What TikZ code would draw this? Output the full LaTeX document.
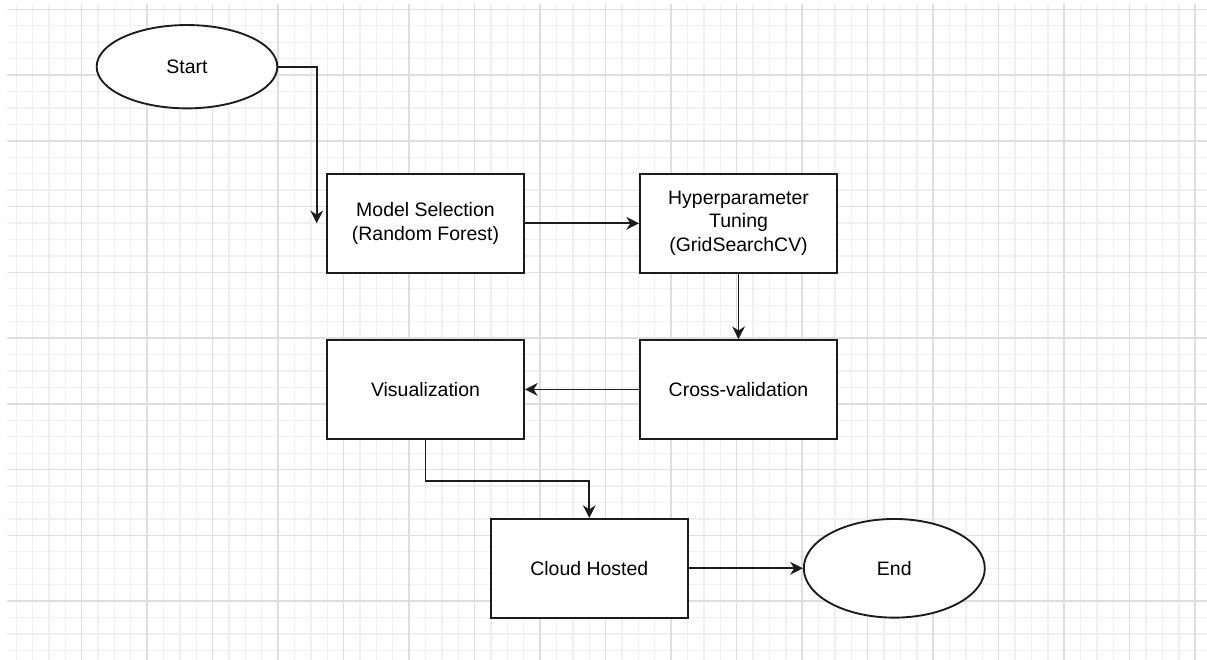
\documentclass[tikz,border=0pt]{standalone}
\usepackage{fontspec}
\setmainfont{Liberation Sans}
\usetikzlibrary{positioning,shapes.geometric,arrows.meta}
\definecolor{gridminor}{RGB}{240,240,240}
\definecolor{gridmajor}{RGB}{222,222,222}
\definecolor{inkline}{RGB}{28,28,28}

\begin{document}
\begin{tikzpicture}[x=0.75pt, y=-0.75pt, ->, >={Stealth[length=9.5pt,width=9.5pt,inset=3pt]},
	line width=1.4pt, draw=inkline, node distance=49.2pt and 85.6pt,
	font=\fontsize{14.6}{17.5}\selectfont,
	stepbox/.style={rectangle, draw=inkline, fill=white, minimum width=147.75pt, minimum height=74pt, align=center},
	terminal/.style={ellipse, draw=inkline, fill=white, minimum width=135.75pt, minimum height=74pt}]
	\useasboundingbox (0,0) rectangle (1207,660);
	
	% background grid
	\begin{scope}[-]
		\clip (7.3,4) rectangle (1207,660);
		\foreach \gx in {0,...,73} \draw[gridminor, line width=1pt] ({16.2+16.375*\gx},4) -- ++(0,656);
		\foreach \gy in {0,...,40} \draw[gridminor, line width=1pt] (7.3,{9.3+16.44*\gy}) -- ++(1200,0);
		\foreach \gx in {0,...,17} \draw[gridmajor, line width=1.1pt] ({81.7+65.5*\gx},4) -- ++(0,656);
		\foreach \gy in {0,...,9} \draw[gridmajor, line width=1.1pt] (7.3,{9.3+65.75*\gy}) -- ++(1200,0);
	\end{scope}
	
	\node[terminal, minimum width=135.5pt, minimum height=62.5pt] (start) at (187,66.7) {Start};
	\node[stepbox] (model) at (425.5,223.3)        {Model Selection\\(Random Forest)};
	\node[stepbox] (hyper) [right=of model]         {Hyperparameter\\Tuning\\(GridSearchCV)};
	\node[stepbox] (cross) [below=of hyper]         {Cross-validation};
	\node[stepbox] (vis)   [left=of cross]          {Visualization};
	\node[stepbox] (cloud) at (589.3,568.3)         {Cloud Hosted};
	\node[terminal] (finish) [right=of cloud]       {End};
	\coordinate (drop) at (316.7,223.3);
	
	\draw (start.east) -| (drop);
	\draw (model) -- (hyper);
	\draw (hyper) -- (cross);
	\draw (cross) -- (vis);
	\draw (vis.south) -- ++(0,41.6) -| (cloud.north);
	\draw (cloud) -- (finish);
\end{tikzpicture}
\end{document}
